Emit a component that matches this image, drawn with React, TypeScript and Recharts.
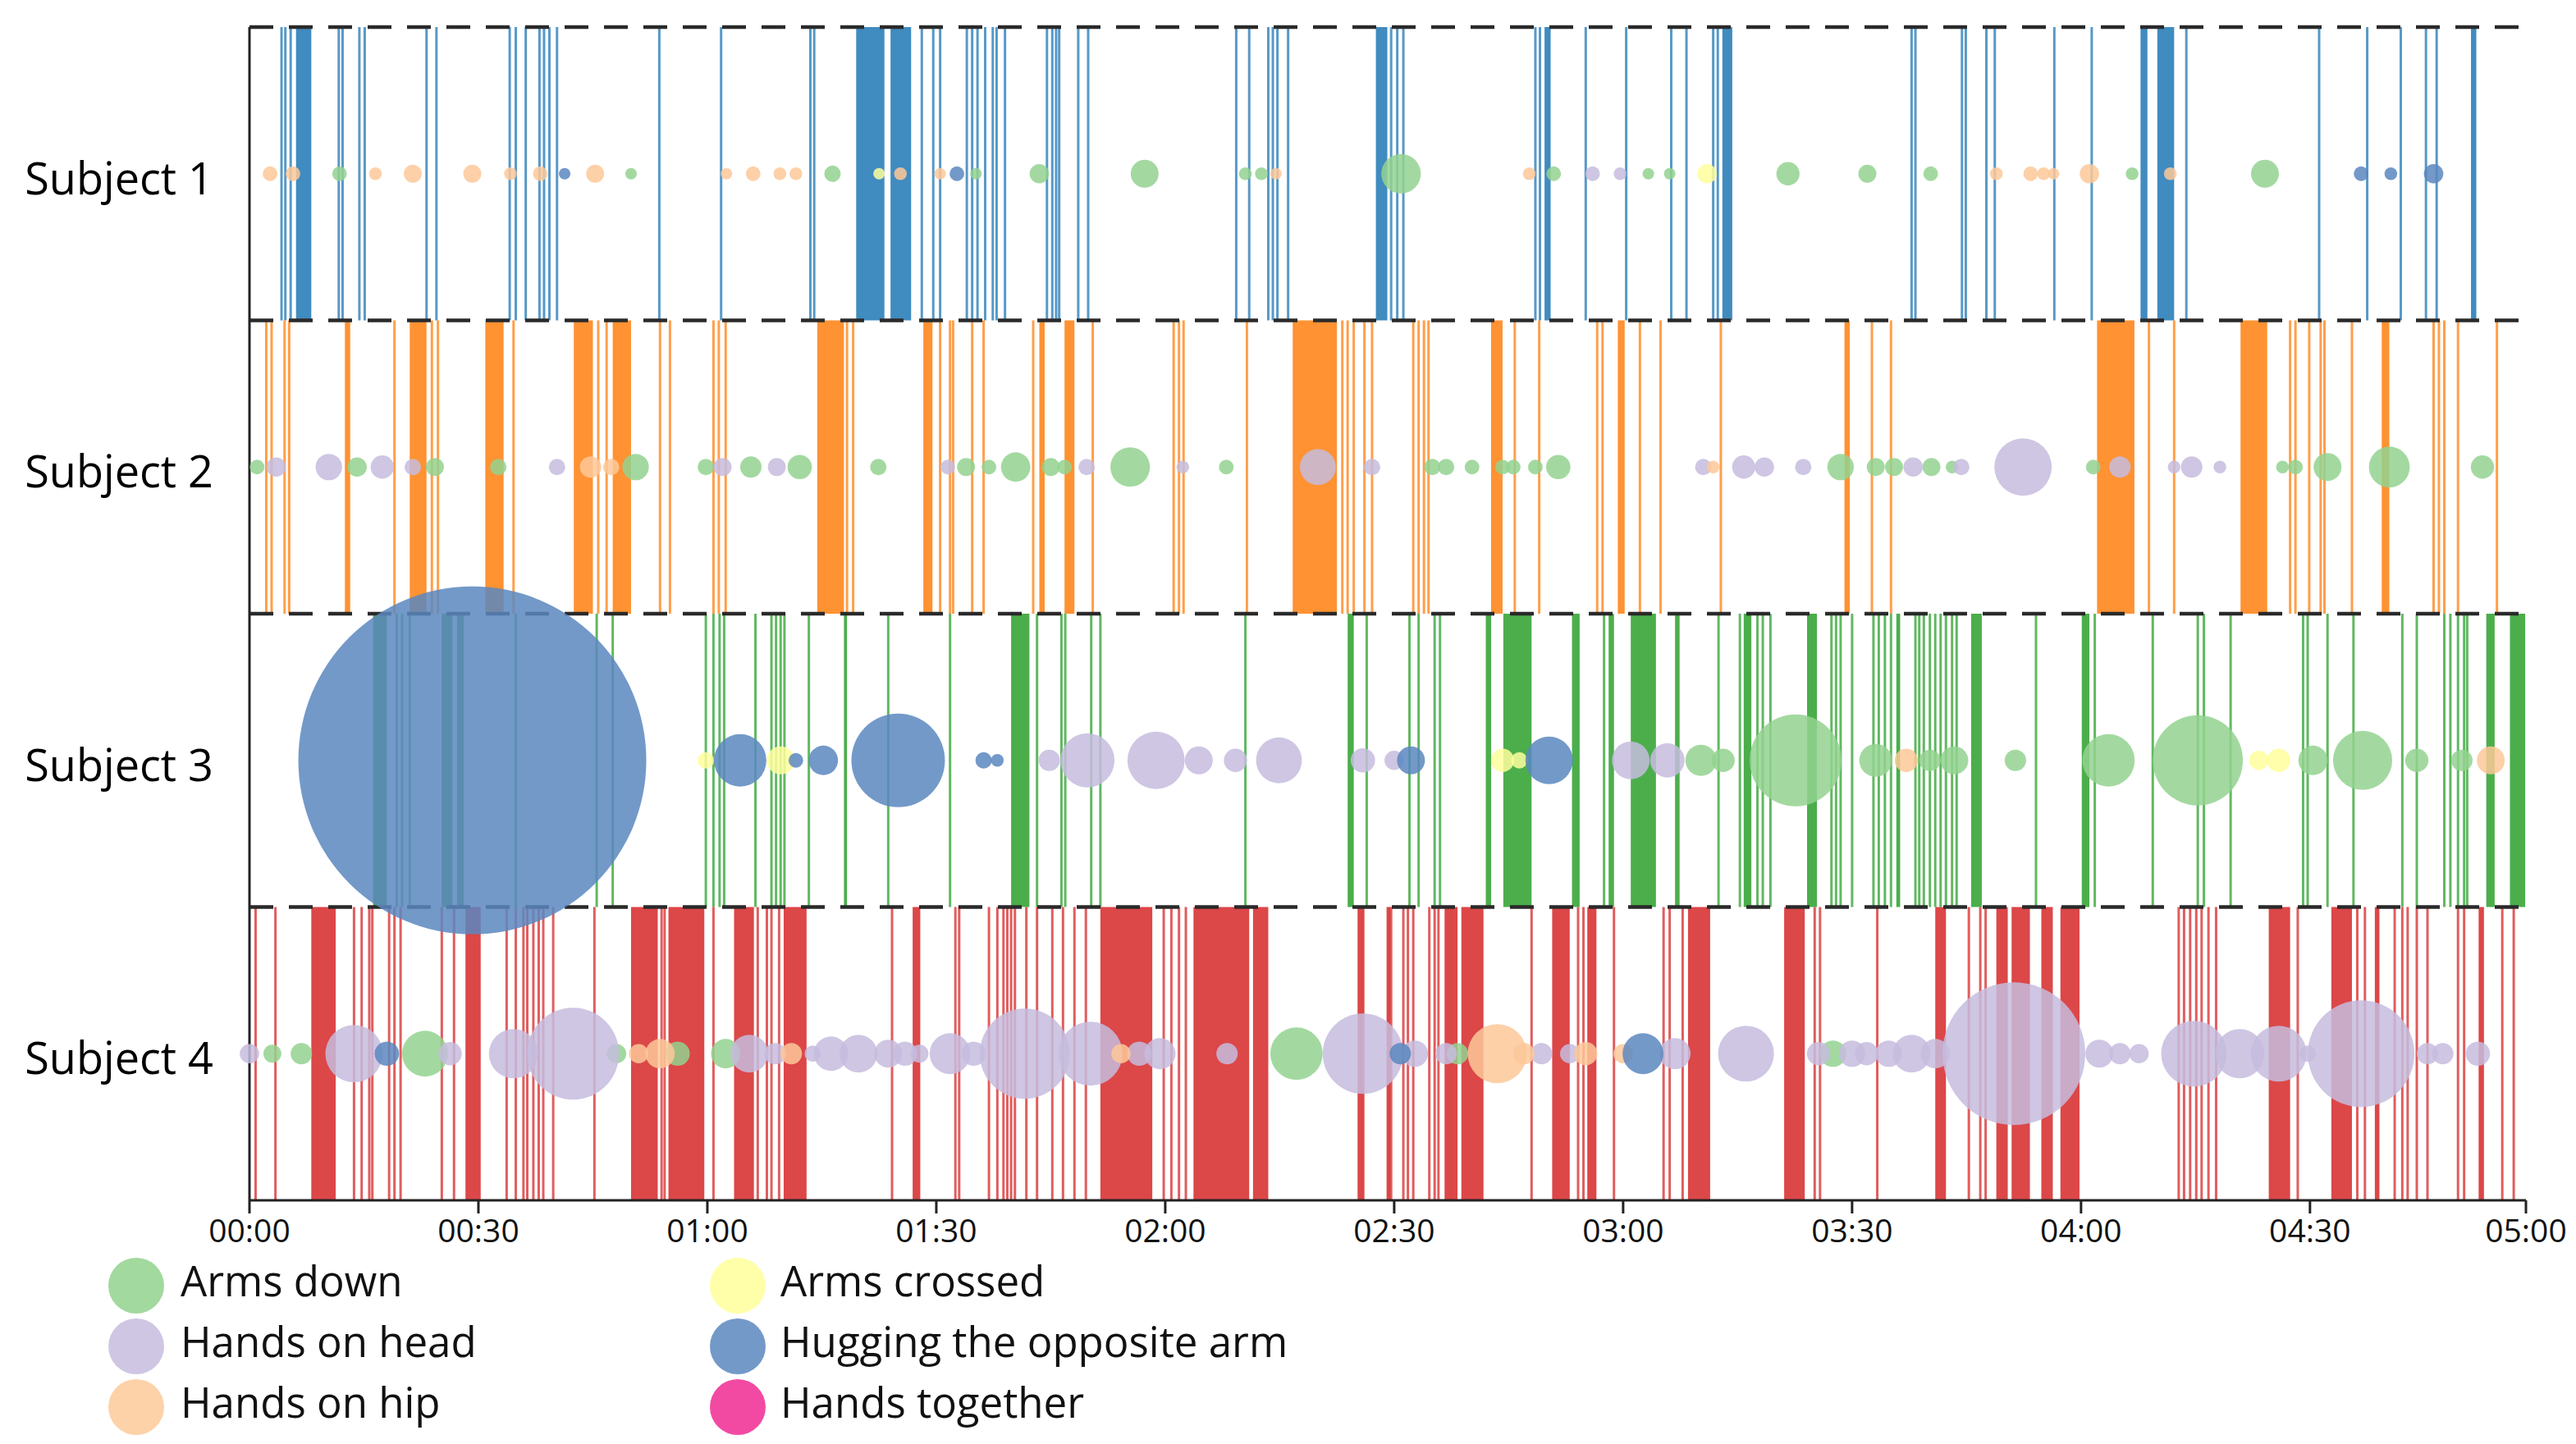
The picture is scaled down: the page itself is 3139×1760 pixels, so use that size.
import { ComposedChart, XAxis, YAxis, ZAxis, Scatter, ReferenceLine, ReferenceArea } from 'recharts'

// rows, top to bottom
const subjects = ['Subject 1', 'Subject 2', 'Subject 3', 'Subject 4']
const subjectColors = ['#1f77b4', '#ff7f0e', '#2ca02c', '#d62728']

// postures (index used in the bubble tuples)
const poses = ['Arms down', 'Hands on head', 'Hands on hip', 'Arms crossed', 'Hugging the opposite arm', 'Hands together']
const poseColors = ['#93d28f', '#c6bcde', '#fdc899', '#fefe9c', '#5a87bf', '#f3409e']
const legendColors = ['#a2d99e', '#cfc6e3', '#fdd2a9', '#ffffaa', '#7399c9', '#f24aa3']

// x axis (seconds)
const tickValues = [0, 30, 60, 90, 120, 150, 180, 210, 240, 270, 298.3]
const tickLabels = ['00:00', '00:30', '01:00', '01:30', '02:00', '02:30', '03:00', '03:30', '04:00', '04:30', '05:00']

// single events per subject (seconds)
const s1Lines = [4.2, 4.7, 5.4, 11.7, 12.2, 14.4, 15.1, 23.2, 24.5, 34.1, 34.9, 36.2, 38.0, 38.6, 39.3, 40.3, 53.7, 61.8, 73.5, 74.0, 88.1, 89.6, 90.5, 94.0, 94.7, 95.4, 96.4, 97.4, 97.9, 99.0, 104.5, 105.2, 105.7, 106.1, 108.6, 109.9, 129.3, 131.0, 133.5, 134.1, 134.7, 136.1, 149.6, 150.4, 151.2, 168.5, 169.1, 175.1, 180.4, 186.3, 188.3, 191.8, 192.4, 217.8, 218.3, 224.4, 224.9, 227.6, 228.7, 236.5, 241.4, 253.8, 271.2, 277.5, 281.9, 285.2, 286.6]
const s2Lines = [2.2, 2.9, 4.6, 5.2, 19.0, 23.9, 24.7, 34.6, 45.7, 46.8, 53.8, 55.1, 60.8, 61.5, 62.4, 78.3, 79.1, 90.5, 91.8, 92.2, 94.7, 96.2, 102.7, 110.5, 121.1, 121.8, 122.4, 130.7, 143.2, 143.9, 144.7, 146.1, 147.1, 152.5, 153.2, 153.9, 154.5, 165.8, 169.0, 176.6, 177.3, 182.2, 184.9, 192.8, 212.6, 215.1, 248.9, 252.2, 267.4, 268.1, 269.9, 271.4, 271.9, 275.5, 286.2, 286.9, 287.6, 289.4, 294.5]
const s3Lines = [19.3, 20.0, 21.0, 34.9, 45.5, 47.6, 59.8, 60.8, 61.6, 62.2, 66.3, 68.4, 69.0, 69.6, 70.1, 73.3, 83.7, 91.8, 103.2, 106.4, 106.9, 110.3, 111.5, 130.5, 146.4, 152.0, 153.2, 155.3, 156.0, 177.5, 192.5, 195.3, 197.6, 198.3, 199.3, 207.3, 207.9, 208.5, 210.0, 212.8, 213.5, 214.3, 215.1, 218.3, 218.8, 219.4, 220.2, 220.9, 221.6, 222.3, 223.1, 223.7, 234.1, 241.8, 249.4, 255.3, 256.1, 259.6, 269.1, 269.7, 272.3, 275.7, 282.1, 284.0, 287.6, 288.4, 289.4, 290.2, 290.6]
const s4Lines = [0.8, 3.4, 13.7, 14.7, 15.7, 16.1, 18.3, 19.0, 19.8, 25.2, 26.8, 33.7, 34.9, 35.9, 36.4, 37.2, 37.9, 38.5, 39.8, 45.2, 54.0, 54.4, 60.8, 66.6, 67.8, 68.4, 69.4, 84.2, 92.5, 93.0, 96.9, 98.0, 98.8, 99.3, 99.8, 100.3, 101.8, 103.2, 105.2, 106.6, 108.1, 109.6, 119.8, 120.8, 121.8, 122.7, 149.6, 151.2, 151.8, 152.5, 154.6, 155.3, 155.8, 168.0, 174.1, 174.8, 178.8, 185.3, 186.1, 187.8, 205.1, 205.8, 213.3, 225.3, 226.8, 227.5, 252.8, 253.5, 254.3, 255.1, 255.8, 256.7, 257.7, 268.4, 276.2, 277.2, 281.1, 282.1, 282.8, 284.0, 285.4, 289.4, 290.2, 295.2, 296.7]

// dense runs of events [start, end]
const s1Bands = [[6.1, 8.1], [79.5, 83.2], [84.0, 86.7], [147.6, 149.1], [169.7, 170.5], [193.0, 194.3], [247.8, 248.7], [250.0, 252.2], [291.1, 291.8]]
const s2Bands = [[12.5, 13.2], [21.0, 23.2], [30.9, 33.3], [42.5, 45.0], [47.6, 50.0], [74.4, 77.9], [88.3, 89.5], [103.5, 104.2], [106.8, 108.1], [136.7, 142.5], [162.7, 164.2], [179.3, 180.2], [209.0, 209.7], [242.1, 247.0], [260.9, 264.4], [279.4, 280.4]]
const s3Bands = [[16.2, 18.0], [25.2, 26.6], [27.2, 28.1], [77.9, 78.3], [99.8, 102.2], [143.9, 144.7], [162.0, 162.7], [164.3, 168.0], [173.3, 174.3], [178.1, 178.8], [181.0, 184.3], [186.8, 187.4], [195.8, 196.8], [204.1, 205.4], [215.8, 216.3], [225.6, 227.0], [240.1, 241.1], [293.1, 294.2], [296.2, 298.2]]
const s4Bands = [[8.1, 11.3], [28.3, 30.3], [50.0, 53.5], [54.9, 59.6], [63.5, 66.1], [70.0, 73.0], [86.9, 87.9], [111.5, 118.3], [123.7, 131.0], [131.5, 133.5], [145.2, 146.1], [149.0, 149.5], [156.6, 158.3], [158.8, 161.7], [170.7, 173.0], [175.3, 176.5], [188.5, 191.4], [201.1, 203.8], [220.9, 222.3], [228.9, 230.4], [230.9, 233.3], [234.8, 236.3], [237.3, 239.8], [264.6, 267.4], [272.8, 275.5], [278.5, 279.1], [292.1, 292.8]]

// posture bubbles: [time, pose index, duration]
const s1Bubbles = [[2.7, 2, 8], [5.7, 2, 8], [11.8, 0, 8], [16.5, 2, 6], [21.4, 2, 12], [29.2, 2, 12], [34.2, 2, 6], [38.1, 2, 8], [41.3, 4, 5], [45.3, 2, 12], [50.0, 0, 5], [62.5, 2, 5], [66.0, 2, 8], [69.5, 2, 6], [71.6, 2, 6], [76.4, 0, 10], [82.5, 3, 5], [85.3, 2, 6], [90.5, 2, 5], [92.7, 4, 8], [95.2, 0, 5], [103.5, 0, 14], [117.3, 0, 29], [130.5, 0, 6], [132.6, 0, 6], [134.5, 2, 5], [150.9, 0, 58], [167.7, 2, 6], [170.9, 0, 8], [176.0, 1, 8], [179.6, 1, 6], [183.3, 0, 5], [186.1, 0, 5], [191.0, 3, 14], [201.6, 0, 20], [212.0, 0, 12], [220.3, 0, 8], [228.9, 2, 6], [233.4, 2, 8], [235.1, 2, 6], [236.4, 2, 5], [241.1, 2, 14], [246.7, 0, 6], [251.7, 2, 6], [264.1, 0, 29], [276.7, 4, 8], [280.6, 4, 6], [286.2, 4, 14]]
const s2Bubbles = [[1.0, 0, 8], [3.5, 1, 14], [10.4, 1, 26], [14.1, 0, 14], [17.4, 1, 20], [21.4, 1, 10], [24.3, 0, 12], [32.6, 0, 10], [40.3, 1, 10], [44.7, 2, 17], [47.4, 2, 10], [50.6, 0, 26], [59.8, 0, 10], [62.0, 1, 12], [65.7, 0, 17], [69.1, 1, 12], [72.1, 0, 22], [82.4, 0, 10], [91.5, 1, 8], [93.9, 0, 12], [96.9, 0, 8], [100.4, 0, 32], [105.0, 0, 12], [106.8, 0, 8], [109.7, 1, 10], [115.4, 0, 58], [122.3, 1, 6], [128.0, 0, 8], [140.0, 1, 48], [147.1, 1, 10], [155.0, 0, 10], [156.8, 0, 10], [160.2, 0, 8], [164.2, 0, 8], [165.6, 0, 8], [168.5, 0, 8], [171.5, 0, 22], [190.5, 1, 10], [191.8, 2, 6], [195.8, 1, 20], [198.5, 1, 14], [203.6, 1, 10], [208.5, 0, 26], [213.1, 0, 12], [215.5, 0, 12], [218.0, 1, 14], [220.4, 0, 12], [223.1, 0, 6], [224.3, 1, 10], [232.4, 1, 122], [241.6, 0, 8], [245.1, 1, 17], [252.2, 1, 6], [254.5, 1, 17], [258.2, 1, 6], [266.4, 0, 6], [268.1, 0, 8], [272.3, 0, 29], [280.4, 0, 62], [292.6, 0, 20]]
const s3Bubbles = [[29.2, 4, 4500], [59.8, 3, 10], [64.3, 4, 102], [69.6, 3, 29], [71.6, 4, 8], [75.2, 4, 32], [85.0, 4, 325], [96.2, 4, 10], [98.0, 4, 6], [104.8, 1, 17], [109.8, 1, 109], [118.8, 1, 122], [124.4, 1, 29], [129.2, 1, 20], [134.9, 1, 78], [145.9, 1, 22], [150.0, 1, 14], [152.2, 4, 29], [164.2, 3, 20], [166.4, 3, 10], [170.3, 4, 84], [181.0, 1, 53], [185.8, 1, 44], [190.2, 0, 36], [193.1, 0, 20], [202.6, 0, 314], [213.1, 0, 40], [217.1, 2, 20], [220.2, 0, 17], [223.4, 0, 29], [231.4, 0, 17], [243.6, 0, 102], [255.3, 0, 302], [263.3, 3, 14], [265.9, 3, 20], [270.4, 0, 32], [276.9, 0, 130], [284.0, 0, 20], [289.9, 0, 17], [293.7, 2, 29]]
const s4Bubbles = [[0, 1, 14], [3.0, 0, 12], [6.8, 0, 17], [13.7, 1, 122], [18.0, 4, 22], [23.0, 0, 78], [26.3, 1, 20], [34.6, 1, 90], [42.4, 1, 314], [48.1, 0, 14], [51.0, 2, 14], [53.8, 2, 32], [56.1, 0, 22], [62.4, 0, 32], [65.5, 1, 53], [68.9, 1, 17], [71.0, 2, 17], [73.8, 1, 10], [76.2, 1, 44], [79.8, 1, 53], [83.7, 1, 29], [85.9, 1, 22], [87.8, 1, 12], [91.8, 1, 62], [94.9, 1, 22], [101.6, 1, 302], [110.2, 1, 152], [114.2, 2, 14], [116.6, 1, 22], [119.3, 1, 36], [128.1, 1, 17], [137.2, 0, 102], [145.9, 1, 240], [150.8, 4, 17], [152.7, 1, 26], [156.8, 1, 17], [158.3, 0, 17], [163.5, 2, 130], [167.0, 2, 17], [169.3, 1, 17], [173.0, 1, 14], [175.1, 2, 20], [180.0, 2, 14], [182.6, 4, 62], [186.8, 1, 36], [196.1, 1, 116], [205.6, 1, 20], [207.5, 0, 26], [210.0, 1, 26], [211.9, 1, 20], [214.8, 1, 26], [217.8, 1, 53], [220.9, 1, 32], [231.2, 1, 757], [242.4, 1, 29], [245.1, 1, 17], [247.6, 1, 14], [254.8, 1, 160], [260.8, 1, 90], [265.9, 1, 116], [269.7, 1, 10], [276.7, 1, 422], [285.4, 1, 17], [287.4, 1, 17], [292.0, 1, 22]]

const lineSets = [s1Lines, s2Lines, s3Lines, s4Lines]
const bandSets = [s1Bands, s2Bands, s3Bands, s4Bands]
const bubbleSets = [s1Bubbles, s2Bubbles, s3Bubbles, s4Bubbles]

const FONT = '"Open Sans", "Noto Sans", sans-serif'

// subject i occupies y in [3 - i, 4 - i]
const poseData = poses.map((_, p) =>
  bubbleSets.flatMap((set, i) =>
    set.filter((b) => b[1] === p).map((b) => ({ t: b[0], y: 3.5 - i, dur: b[2] }))
  )
)

function SubjectTick(props: any) {
  const { x, y, payload } = props
  return (
    <text x={x} y={y + 25} textAnchor="end" fontSize={54} fill="#000" fontFamily={FONT}>
      {subjects[Math.round(3.5 - payload.value)]}
    </text>
  )
}

function Legend() {
  const col = (k: number) => (k < 3 ? 0 : 1)
  const row = (k: number) => k % 3
  const circleX = [158, 891]
  const textX = [212, 943]
  const circleY = [1559, 1633, 1707]
  const baseY = [1572, 1646, 1720]
  return (
    <>
      {poses.map((p, k) => (
        <div key={p}>
          <div
            style={{
              position: 'absolute',
              left: circleX[col(k)] - 34,
              top: circleY[row(k)] - 34,
              width: 68,
              height: 68,
              borderRadius: '50%',
              background: legendColors[k],
            }}
          />
          <div
            style={{
              position: 'absolute',
              left: textX[col(k)],
              top: baseY[row(k)] - 40,
              fontSize: 51,
              lineHeight: '40px',
              fontFamily: FONT,
              color: '#111',
              whiteSpace: 'nowrap',
            }}
          >
            {p}
          </div>
        </div>
      ))}
    </>
  )
}

export default function App() {
  return (
    <div style={{ position: 'relative', width: 3123, height: 1744, fontFamily: FONT }}>
      <ComposedChart width={3123} height={1530} margin={{ top: 25, right: 53, left: 0, bottom: 0 }}>
        <XAxis
          type="number"
          dataKey="t"
          domain={[0, 298.3]}
          ticks={tickValues}
          interval={0}
          tickFormatter={(v: number) => tickLabels[tickValues.indexOf(v)]}
          height={75}
          tickSize={16}
          tickMargin={7}
          tick={{ fontSize: 39, fill: '#111', fontFamily: FONT }}
          axisLine={{ stroke: '#222', strokeWidth: 3 }}
          tickLine={{ stroke: '#222', strokeWidth: 3 }}
        />
        <YAxis
          type="number"
          dataKey="y"
          domain={[0, 4]}
          ticks={[3.5, 2.5, 1.5, 0.5]}
          interval={0}
          width={296}
          tickSize={0}
          tickMargin={44}
          tickLine={false}
          tick={<SubjectTick />}
          axisLine={{ stroke: '#222', strokeWidth: 3 }}
        />
        <ZAxis dataKey="dur" type="number" domain={[0, 4500]} range={[0, Math.PI * 212 * 212]} />

        {bandSets.map((bands, i) =>
          bands.map((b, j) => (
            <ReferenceArea
              key={`b${i}-${j}`}
              x1={b[0]}
              x2={b[1]}
              y1={3 - i}
              y2={4 - i}
              fill={subjectColors[i]}
              fillOpacity={0.85}
              stroke="none"
            />
          ))
        )}
        {lineSets.map((lines, i) =>
          lines.map((t, j) => (
            <ReferenceLine
              key={`l${i}-${j}`}
              segment={[
                { x: t, y: 4 - i },
                { x: t, y: 3 - i },
              ]}
              stroke={subjectColors[i]}
              strokeWidth={3}
              strokeOpacity={0.75}
            />
          ))
        )}

        {poses.map((p, k) => (
          <Scatter
            key={p}
            name={p}
            data={poseData[k]}
            fill={poseColors[k]}
            fillOpacity={0.85}
            isAnimationActive={false}
          />
        ))}

        {subjects.map((s, i) => (
          <ReferenceLine key={`d${s}`} y={4 - i} stroke="#2a2a2a" strokeWidth={4.5} strokeDasharray="29 19" />
        ))}
      </ComposedChart>
      <Legend />
    </div>
  )
}
